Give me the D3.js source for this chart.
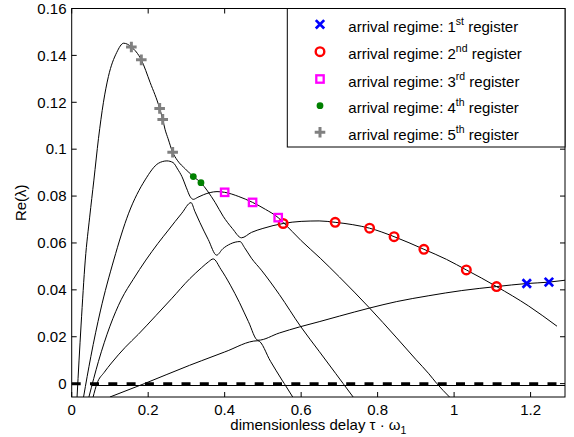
<!DOCTYPE html>
<html><head><meta charset="utf-8">
<script src="https://cdn.jsdelivr.net/npm/d3@7"></script>
<style>
html,body{margin:0;padding:0;background:#fff;}
svg{display:block;font-family:"Liberation Sans",Arial,Helvetica,sans-serif;}
</style></head><body>
<svg id="chart" width="574" height="437"></svg>
<script>
// axis ticks and limits
const xTicks = [0, 0.2, 0.4, 0.6, 0.8, 1, 1.2];
const yTicks = [0, 0.02, 0.04, 0.06, 0.08, 0.1, 0.12, 0.14, 0.16];
const xDomain = [0, 1.29];
const yDomain = [-0.0057, 0.16];

// eigenvalue branches: [tau*omega1, Re(lambda)]
const branch1 = [[0.014,-0.0057],[0.0245,0.025],[0.0355,0.0527],[0.047,0.071],[0.058,0.0868],[0.070,0.1045],[0.083,0.120],[0.096,0.131],[0.1176,0.1412],[0.136,0.1452],[0.156,0.1436],[0.182,0.1381],[0.205,0.1285],[0.230,0.1174],[0.238,0.1127],[0.244,0.1085],[0.252,0.1045],[0.264,0.0987],[0.276,0.0953],[0.297,0.0916],[0.318,0.0883],[0.338,0.0857],[0.355,0.0822],[0.375,0.0773],[0.396,0.0714],[0.420,0.0662],[0.444,0.0622],[0.470,0.0645],[0.500,0.0662],[0.553,0.0683],[0.600,0.0692],[0.647,0.0694],[0.689,0.0688],[0.735,0.0678],[0.779,0.0663],[0.843,0.0627],[0.921,0.0573],[0.980,0.0530],[1.032,0.0485],[1.072,0.0450],[1.111,0.0414],[1.195,0.0331],[1.269,0.0245]];
const branch2 = [[0.031,-0.0057],[0.050,0.0115],[0.075,0.031],[0.110,0.0527],[0.149,0.0727],[0.192,0.0869],[0.227,0.0940],[0.249,0.0950],[0.265,0.0943],[0.277,0.0915],[0.288,0.0884],[0.300,0.0835],[0.310,0.0797],[0.318,0.0786],[0.330,0.0795],[0.345,0.0806],[0.362,0.0815],[0.380,0.0819],[0.400,0.0816],[0.437,0.0798],[0.473,0.0773],[0.507,0.0743],[0.540,0.0708],[0.553,0.0688],[0.600,0.0610],[0.650,0.0535],[0.700,0.0455],[0.778,0.0324],[0.850,0.0195],[0.900,0.0103],[0.934,0.0042],[0.955,0.0],[0.988,-0.0057]];
const branch3 = [[0.045,-0.0057],[0.070,0.0095],[0.100,0.0245],[0.130,0.036],[0.161,0.0445],[0.194,0.0527],[0.225,0.0597],[0.253,0.0655],[0.288,0.0727],[0.312,0.0772],[0.322,0.0735],[0.335,0.0688],[0.357,0.0615],[0.379,0.0548],[0.395,0.0575],[0.415,0.0596],[0.440,0.0606],[0.452,0.0580],[0.470,0.0535],[0.496,0.0484],[0.543,0.0380],[0.599,0.0243],[0.647,0.0138],[0.690,0.0044],[0.710,0.0],[0.736,-0.0057]];
const branch4 = [[0.056,-0.0057],[0.066,0.0],[0.085,0.0048],[0.104,0.0088],[0.140,0.0155],[0.174,0.0210],[0.220,0.0290],[0.261,0.0362],[0.309,0.0448],[0.340,0.0495],[0.358,0.0520],[0.370,0.0532],[0.390,0.0488],[0.415,0.0420],[0.439,0.0345],[0.462,0.0265],[0.487,0.0185],[0.543,0.0216],[0.596,0.0242],[0.649,0.0265],[0.700,0.0288],[0.778,0.0322],[0.850,0.0350],[0.934,0.0375],[1.020,0.0397],[1.111,0.0414],[1.190,0.0427],[1.248,0.0433],[1.290,0.0441]];
const branch5 = [[0.100,-0.0057],[0.190,0.0],[0.308,0.0078],[0.340,0.0098],[0.400,0.0135],[0.487,0.0183],[0.520,0.0095],[0.550,0.0015],[0.556,0.0],[0.578,-0.0057]];
const branchNeutral = [[0.052,-0.0008],[1.290,-0.0008]];
const branches = [branch1, branch2, branch3, branch4, branch5, branchNeutral];

// arrival-regime markers
const reg1 = [[1.190,0.0427],[1.248,0.0433]];
const reg2 = [[0.553,0.0683],[0.689,0.0688],[0.779,0.0663],[0.843,0.0627],[0.921,0.0573],[1.032,0.0485],[1.111,0.0414]];
const reg3 = [[0.400,0.0816],[0.473,0.0773],[0.540,0.0708]];
const reg4 = [[0.318,0.0883],[0.338,0.0857]];
const reg5 = [[0.156,0.1436],[0.182,0.1381],[0.230,0.1174],[0.238,0.1127],[0.264,0.0987]];

const legendOrdinals = [["1","st"],["2","nd"],["3","rd"],["4","th"],["5","th"]];
const legendPrefix = "arrival regime: ";
const legendSuffix = " register";

const svg = d3.select("#chart");
const L = 71.7, R = 565, T = 8.5, B = 397;
const x = d3.scaleLinear().domain(xDomain).range([L, R]);
const y = d3.scaleLinear().domain(yDomain).range([B, T]);

svg.append("defs").append("clipPath").attr("id","plotclip")
  .append("rect").attr("x",L).attr("y",T).attr("width",R-L).attr("height",B-T);

const plot = svg.append("g").attr("clip-path","url(#plotclip)");

const line = d3.line().x(d => x(d[0])).y(d => y(d[1])).curve(d3.curveMonotoneX);

plot.selectAll("path.branch").data(branches).join("path")
  .attr("class","branch")
  .attr("d", line)
  .attr("fill","none").attr("stroke","#000").attr("stroke-width",1);

// zero reference
plot.append("line")
  .attr("x1", x(0)).attr("x2", x(xDomain[1]))
  .attr("y1", y(0)).attr("y2", y(0))
  .attr("stroke","#000").attr("stroke-width",3)
  .attr("stroke-dasharray","9,9.3");

// marker painters
const markers = {
  cross: (g, cx, cy) => {
    const s = 4.2;
    g.append("path").attr("d",`M${cx-s},${cy-s}L${cx+s},${cy+s}M${cx-s},${cy+s}L${cx+s},${cy-s}`)
      .attr("stroke","#0000ff").attr("stroke-width",2.7).attr("fill","none");
  },
  circle: (g, cx, cy) => {
    g.append("circle").attr("cx",cx).attr("cy",cy).attr("r",4.3)
      .attr("fill","none").attr("stroke","#ff0000").attr("stroke-width",2.4);
  },
  square: (g, cx, cy) => {
    const s = 3.7;
    g.append("rect").attr("x",cx-s).attr("y",cy-s).attr("width",2*s).attr("height",2*s)
      .attr("fill","none").attr("stroke","#ff00ff").attr("stroke-width",2.3);
  },
  dot: (g, cx, cy) => {
    g.append("circle").attr("cx",cx).attr("cy",cy).attr("r",3.4).attr("fill","#008000");
  },
  plus: (g, cx, cy) => {
    const s = 5.3;
    g.append("path").attr("d",`M${cx-s},${cy}L${cx+s},${cy}M${cx},${cy-s}L${cx},${cy+s}`)
      .attr("stroke","#808080").attr("stroke-width",3).attr("fill","none");
  }
};
const regimes = [
  {data: reg1, kind: "cross"},
  {data: reg2, kind: "circle"},
  {data: reg3, kind: "square"},
  {data: reg4, kind: "dot"},
  {data: reg5, kind: "plus"}
];
const mg = svg.append("g");
regimes.forEach(r => r.data.forEach(d => markers[r.kind](mg, x(d[0]), y(d[1]))));

// axes box with inward ticks on all sides
const axes = svg.append("g");
const tickLen = 5;
xTicks.forEach(t => {
  axes.append("line").attr("x1",x(t)).attr("x2",x(t)).attr("y1",B).attr("y2",B-tickLen).attr("stroke","#000");
  axes.append("line").attr("x1",x(t)).attr("x2",x(t)).attr("y1",T).attr("y2",T+tickLen).attr("stroke","#000");
  axes.append("text").attr("x",x(t)).attr("y",414.5).attr("text-anchor","middle")
    .attr("font-size",15).text(d3.format("~g")(t));
});
yTicks.forEach(t => {
  axes.append("line").attr("x1",L).attr("x2",L+tickLen).attr("y1",y(t)).attr("y2",y(t)).attr("stroke","#000");
  axes.append("line").attr("x1",R).attr("x2",R-tickLen).attr("y1",y(t)).attr("y2",y(t)).attr("stroke","#000");
  axes.append("text").attr("x",66.5).attr("y",y(t)+5.3).attr("text-anchor","end")
    .attr("font-size",15).text(d3.format("~g")(t));
});
axes.append("rect").attr("x",L).attr("y",T).attr("width",R-L).attr("height",B-T)
  .attr("fill","none").attr("stroke","#000").attr("stroke-width",1);

// axis titles
const xt = svg.append("text").attr("x",(L+R)/2).attr("y",430).attr("text-anchor","middle").attr("font-size",15);
xt.append("tspan").text("dimensionless delay \u03C4 \u00B7 \u03C9");
xt.append("tspan").attr("font-size",10.5).attr("dy",4).text("1");
svg.append("text").attr("transform",`translate(26,${(T+B)/2}) rotate(-90)`)
  .attr("text-anchor","middle").attr("font-size",15).text("Re(\u03BB)");

// legend
const lg = svg.append("g");
lg.append("rect").attr("x",287.3).attr("y",T).attr("width",R-287.3).attr("height",147-T)
  .attr("fill","#fff").attr("stroke","#000").attr("stroke-width",1);
const rowY = [24.3, 51.7, 79, 105.7, 132.3];
regimes.forEach((r, i) => {
  markers[r.kind](lg, 320, rowY[i]);
  const t = lg.append("text").attr("x",348.3).attr("y",rowY[i]+7.7).attr("font-size",15);
  t.append("tspan").text(legendPrefix + legendOrdinals[i][0]);
  t.append("tspan").attr("font-size",10.5).attr("dy",-7).text(legendOrdinals[i][1]);
  t.append("tspan").attr("dy",7).text(legendSuffix);
});
</script>
</body></html>
